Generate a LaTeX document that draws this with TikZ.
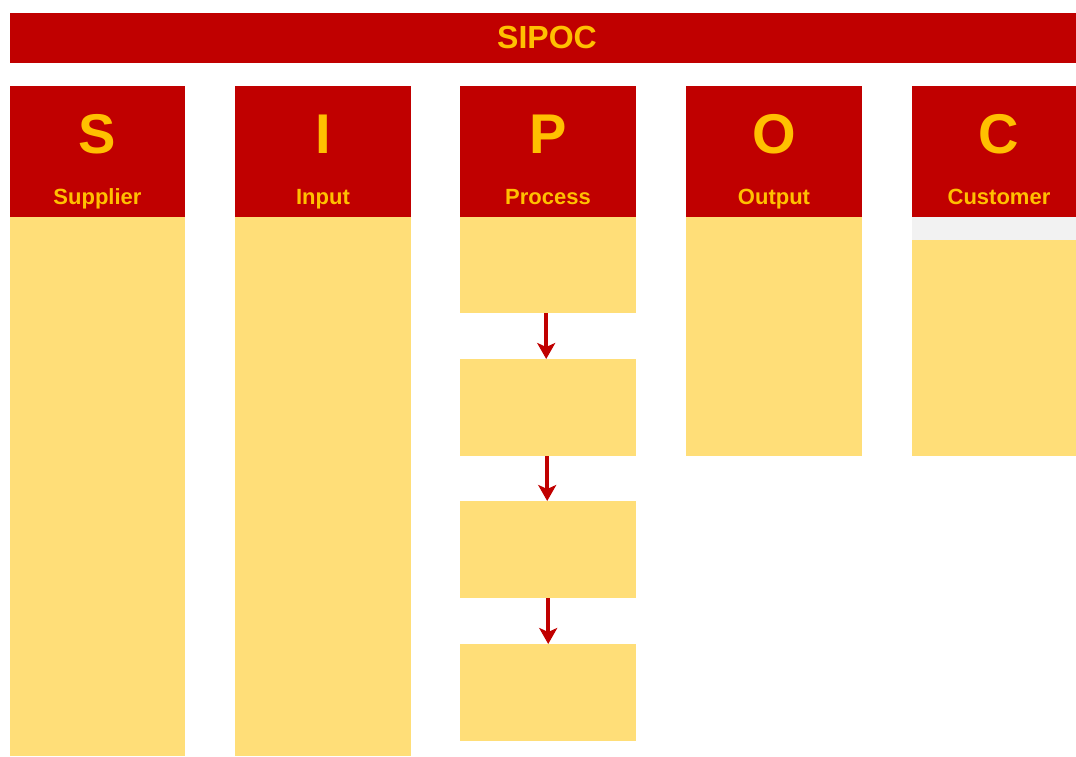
\documentclass[tikz,border=0pt]{standalone}
\usepackage{fontspec}
\setmainfont{Liberation Sans}
\usetikzlibrary{positioning,arrows.meta}

\begin{document}
\begin{tikzpicture}[x=1pt,y=-1pt]
	\definecolor{sipocred}{RGB}{192,0,0}
	\definecolor{sipocgold}{RGB}{255,192,0}
	\definecolor{sipocfill}{RGB}{255,222,120}
	\definecolor{sipocgray}{RGB}{242,242,242}
	\tikzset{
		banner/.style={
			fill=sipocred,
			inner sep=0pt,
			anchor=north west
		},
		colhead/.style={
			fill=sipocred,
			inner sep=0pt,
			anchor=north west,
			minimum width=176pt,
			minimum height=131pt
		},
		colbody/.style={
			fill=sipocfill,
			inner sep=0pt,
			anchor=north west,
			minimum width=176pt
		},
		headline/.style={
			text=sipocgold,
			anchor=base,
			font=\bfseries\fontsize{32}{36}\selectfont
		},
		letter/.style={
			text=sipocgold,
			anchor=base,
			font=\bfseries\fontsize{56}{60}\selectfont
		},
		caption/.style={
			text=sipocgold,
			anchor=base,
			font=\bfseries\fontsize{22}{26}\selectfont
		},
		flow/.style={
			draw=sipocred,
			line width=3.5pt,
			-{Stealth[length=16pt,width=18pt,inset=4pt]}
		}
	}
	\useasboundingbox (0,0) rectangle (1076,756);
	
	% ======= Title bar =======
	\node[banner, minimum width=1066pt, minimum height=50pt] (title) at (10,13) {};
	\node[headline] (titletext) at (547,48) {SIPOC};
	
	% ======= S: Supplier =======
	\node[colhead, minimum width=175pt] (shead) at (10,86) {};
	\node[letter] (sletter) at (97.5,153) {S};
	\node[caption] (scap) at (97.5,204) {Supplier};
	\node[colbody, minimum width=175pt, minimum height=539pt] (sbody) at (10,217) {};
	
	% ======= I: Input =======
	\node[colhead] (ihead) at (235,86) {};
	\node[letter] (iletter) at (323,153) {I};
	\node[caption] (icap) at (323,204) {Input};
	\node[colbody, minimum height=539pt] (ibody) at (235,217) {};
	
	% ======= P: Process =======
	\node[colhead] (phead) at (460,86) {};
	\node[letter] (pletter) at (548,153) {P};
	\node[caption] (pcap) at (548,204) {Process};
	\node[colbody, minimum height=96pt] (p1) at (460,217) {};
	\node[colbody, minimum height=97pt] (p2) at (460,359) {};
	\node[colbody, minimum height=97pt] (p3) at (460,501) {};
	\node[colbody, minimum height=97pt] (p4) at (460,644) {};
	
	\draw[flow] ([xshift=-2pt]p1.south) -- ([xshift=-2pt]p2.north);
	\draw[flow] ([xshift=-1pt]p2.south) -- ([xshift=-1pt]p3.north);
	\draw[flow] (p3.south) -- (p4.north);
	
	% ======= O: Output =======
	\node[colhead] (ohead) at (686,86) {};
	\node[letter] (oletter) at (774,153) {O};
	\node[caption] (ocap) at (774,204) {Output};
	\node[colbody, minimum height=239pt] (obody) at (686,217) {};
	
	% ======= C: Customer =======
	\node[colhead, minimum width=164pt] (chead) at (912,86) {};
	\node[letter] (cletter) at (999,153) {C};
	\node[caption] (ccap) at (999,204) {Customer};
	\node[colbody, fill=sipocgray, minimum width=164pt, minimum height=23pt] (cband) at (912,217) {};
	\node[colbody, minimum width=164pt, minimum height=216pt] (cbody) at (912,240) {};
\end{tikzpicture}
\end{document}
